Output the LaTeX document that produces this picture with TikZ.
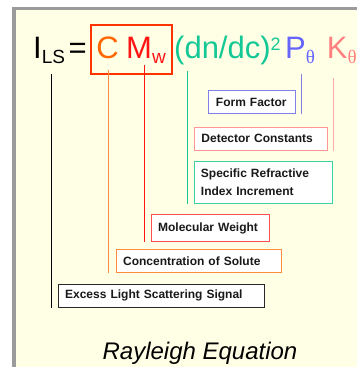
\documentclass[tikz,border=0pt]{standalone}
\usepackage{fontspec}
\setmainfont{Liberation Sans}
\newfontfamily\thetafont{Liberation Serif}
\usepackage{tikz}
\hyphenpenalty=10000

\definecolor{bgyellow}{RGB}{255,255,230}
\definecolor{framegray}{RGB}{155,155,155}
\definecolor{termC}{RGB}{255,102,0}
\definecolor{termM}{RGB}{255,20,20}
\definecolor{termN}{RGB}{20,200,150}
\definecolor{termP}{RGB}{102,102,255}
\definecolor{termK}{RGB}{255,128,128}
\definecolor{boxred}{RGB}{255,51,0}
\definecolor{textdark}{RGB}{25,25,25}
\definecolor{edgeP}{RGB}{128,128,230}
\definecolor{edgeK}{RGB}{255,150,150}
\definecolor{edgeN}{RGB}{60,210,160}
\definecolor{edgeM}{RGB}{255,80,80}
\definecolor{edgeC}{RGB}{255,140,60}
\definecolor{edgeI}{RGB}{40,40,40}

\newcommand{\eqsub}{\fontsize{19}{19}\selectfont}
\newcommand{\eqsup}{\fontsize{18}{18}\selectfont}

\begin{document}
\begin{tikzpicture}[x=1pt,y=-1pt,
    eq/.style={inner sep=0pt,anchor=base west,font=\fontsize{31}{31}\selectfont},
    lbox/.style={draw,fill=white,line width=0.9pt,anchor=north west,inner xsep=7pt,inner ysep=0pt,
      align=left,text=textdark,font=\bfseries\fontsize{12}{17.5}\selectfont},
    tap/.style={line width=0.9pt}]
  \useasboundingbox (0,0) rectangle (357,367);
  % frame and background
  \fill[white] (0,0) rectangle (357,367);
  \fill[framegray] (12,7) rectangle (357,367);
  \fill[bgyellow] (16,10) rectangle (357,367);

  % equation
  \node[eq] (iLS) at (33,58.5) {I\raisebox{-4.5pt}{\eqsub LS}};
  \node[eq] (eqSign) at (68.5,58.5) {=};
  \node[eq,text=termC] (cTerm) at (96.2,58.5) {C};
  \node[eq,text=termM] (mTerm) at (126,58.5) {M\raisebox{-4.5pt}{\eqsub w}};
  \node[eq,text=termN] (nTerm) at (174,58.5) {(dn/dc)\raisebox{8.5pt}{\eqsup 2}};
  \node[eq,text=termP] (pTerm) at (285,58.5) {P\raisebox{-5pt}{\thetafont\eqsub θ}};
  \node[eq,text=termK] (kTerm) at (326.7,58.5) {K\raisebox{-5pt}{\thetafont\eqsub θ}};
  \draw[boxred,line width=1.8pt] (90.7,25) rectangle (171.7,74.3);

  % labels
  \node[lbox,draw=edgeP,inner xsep=8pt,text width=71.5pt,minimum height=23pt]
    (formF) at (207.5,90) {Form Factor};
  \node[lbox,draw=edgeK,text width=119pt,minimum height=22.7pt]
    (detC) at (194,127) {Detector Constants};
  \node[lbox,draw=edgeN,text width=124pt,minimum height=42pt]
    (refIdx) at (193.5,160.7) {Specific Refractive\\Index Increment};
  \node[lbox,draw=edgeM,text width=104.3pt,minimum height=27.3pt]
    (molW) at (150.7,214) {Molecular Weight};
  \node[lbox,draw=edgeC,text width=151.3pt,minimum height=22.7pt]
    (concS) at (115.7,249) {Concentration of Solute};
  \node[lbox,draw=edgeI,text width=192.3pt,minimum height=23pt]
    (sigL) at (57.7,283.7) {Excess Light Scattering Signal};

  % connectors
  \coordinate (tapI) at (51,74);
  \coordinate (tapC) at (108.5,70);
  \coordinate (tapM) at (144.5,65);
  \coordinate (tapN) at (187,71);
  \coordinate (tapP) at (301,74);
  \coordinate (tapK) at (333,78);
  \draw[tap,black,line width=0.8pt] (tapI) -- (tapI |- sigL.south);
  \draw[tap,edgeC] (tapC) -- (tapC |- concS.south);
  \draw[tap,termM] (tapM) -- (tapM |- molW.south);
  \draw[tap,termN] (tapN) -- (tapN |- refIdx.south);
  \draw[tap,edgeP] (tapP) -- (tapP |- formF.south);
  \draw[tap,edgeK!80] (tapK) -- (tapK |- detC.south);

  \node[font=\itshape\fontsize{24}{24}\selectfont,anchor=base] (title) at (200,359) {Rayleigh Equation};
\end{tikzpicture}
\end{document}
